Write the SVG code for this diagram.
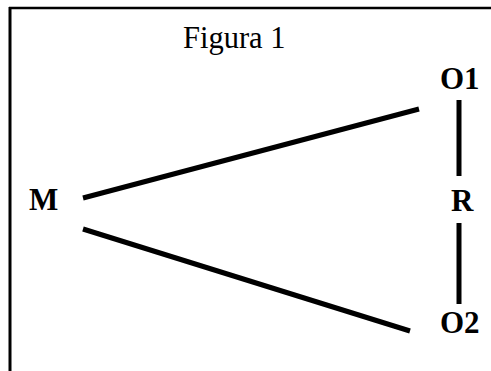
<svg xmlns="http://www.w3.org/2000/svg" width="491" height="371" viewBox="0 0 491 371">
<style>
.frame{stroke:#000;fill:none}
.conn line{stroke:#000;stroke-width:5}
.t{font-family:"Liberation Serif","Times New Roman",serif;fill:#000}
.b{font-weight:bold;font-size:31px}
</style>
<rect width="491" height="371" fill="#fff"/>
<g id="frame">
<line class="frame" x1="9" y1="8" x2="491" y2="8" stroke-width="2.5"/>
<line class="frame" x1="10" y1="7" x2="10" y2="371" stroke-width="3"/>
</g>
<text id="title" class="t" x="183" y="48" font-size="30.5">Figura 1</text>
<g id="conns" class="conn">
<line x1="83" y1="198" x2="419" y2="109"/>
<line x1="83" y1="229" x2="410" y2="331"/>
<line x1="459" y1="100" x2="459" y2="176"/>
<line x1="459" y1="223" x2="459" y2="304"/>
</g>
<g id="M"><text class="t b" x="29" y="210">M</text></g>
<g id="O1"><text class="t b" x="440" y="89">O1</text></g>
<g id="R"><text class="t b" x="451" y="211">R</text></g>
<g id="O2"><text class="t b" x="440" y="333">O2</text></g>
</svg>
